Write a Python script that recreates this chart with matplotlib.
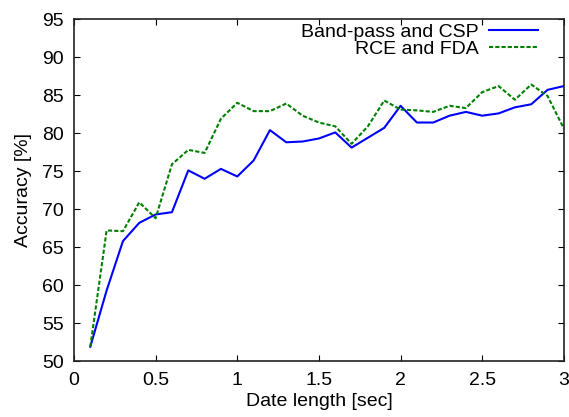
import matplotlib
matplotlib.use('Agg')
import matplotlib.pyplot as plt

plt.rcParams['font.family'] = ['Liberation Sans', 'DejaVu Sans']

# data length in seconds
lengths = [0.1, 0.2, 0.3, 0.4, 0.5, 0.6, 0.7, 0.8, 0.9, 1.0,
           1.1, 1.2, 1.3, 1.4, 1.5, 1.6, 1.7, 1.8, 1.9, 2.0,
           2.1, 2.2, 2.3, 2.4, 2.5, 2.6, 2.7, 2.8, 2.9, 3.0]

bandpass_csp = [51.9, 59.3, 65.8, 68.2, 69.3, 69.6, 75.1, 74.0, 75.3, 74.3,
                76.4, 80.4, 78.8, 78.9, 79.3, 80.1, 78.1, 79.4, 80.7, 83.6,
                81.4, 81.4, 82.3, 82.8, 82.3, 82.6, 83.4, 83.8, 85.7, 86.2]

rce_fda = [51.9, 67.2, 67.1, 70.9, 68.8, 75.9, 77.8, 77.4, 81.9, 84.0,
           82.9, 82.9, 83.9, 82.3, 81.4, 80.9, 78.6, 80.9, 84.3, 83.1,
           83.0, 82.8, 83.6, 83.3, 85.4, 86.2, 84.4, 86.4, 84.9, 80.6]

xticks = [0, 0.5, 1, 1.5, 2, 2.5, 3]
xticklabels = ['0', '0.5', '1', '1.5', '2', '2.5', '3']
yticks = [50, 55, 60, 65, 70, 75, 80, 85, 90, 95]

fig = plt.figure(figsize=(5.69, 4.17), dpi=100)
ax = fig.add_axes([0.130, 0.134, 0.861, 0.820])

ax.plot(lengths, bandpass_csp, color='#0000ff', lw=1.5, label='Band-pass and CSP')
ax.plot(lengths, rce_fda, color='#008000', lw=1.5, linestyle=(0, (2, 1)),
        label='RCE and FDA')

ax.set_xlim(0, 3)
ax.set_ylim(50, 95)
ax.set_xticks(xticks)
ax.set_xticklabels(xticklabels)
ax.set_yticks(yticks)
ax.tick_params(direction='in', top=True, right=True, length=4, width=0.8,
               labelsize=14, pad=7.5)
for s in ax.spines.values():
    s.set_linewidth(1.2)
    s.set_color('#222222')

ax.set_xlabel('Date length [sec]', fontsize=14, labelpad=3)
ax.set_ylabel('Accuracy [%]', fontsize=14, labelpad=7)

leg = ax.legend(loc='upper right', frameon=False, markerfirst=False, fontsize=14,
                handlelength=2.5, handletextpad=0.55, labelspacing=0.0,
                borderaxespad=0.1, borderpad=0.1,
                bbox_to_anchor=(0.955, 1.0))

fig.savefig('out.png', dpi=100)
